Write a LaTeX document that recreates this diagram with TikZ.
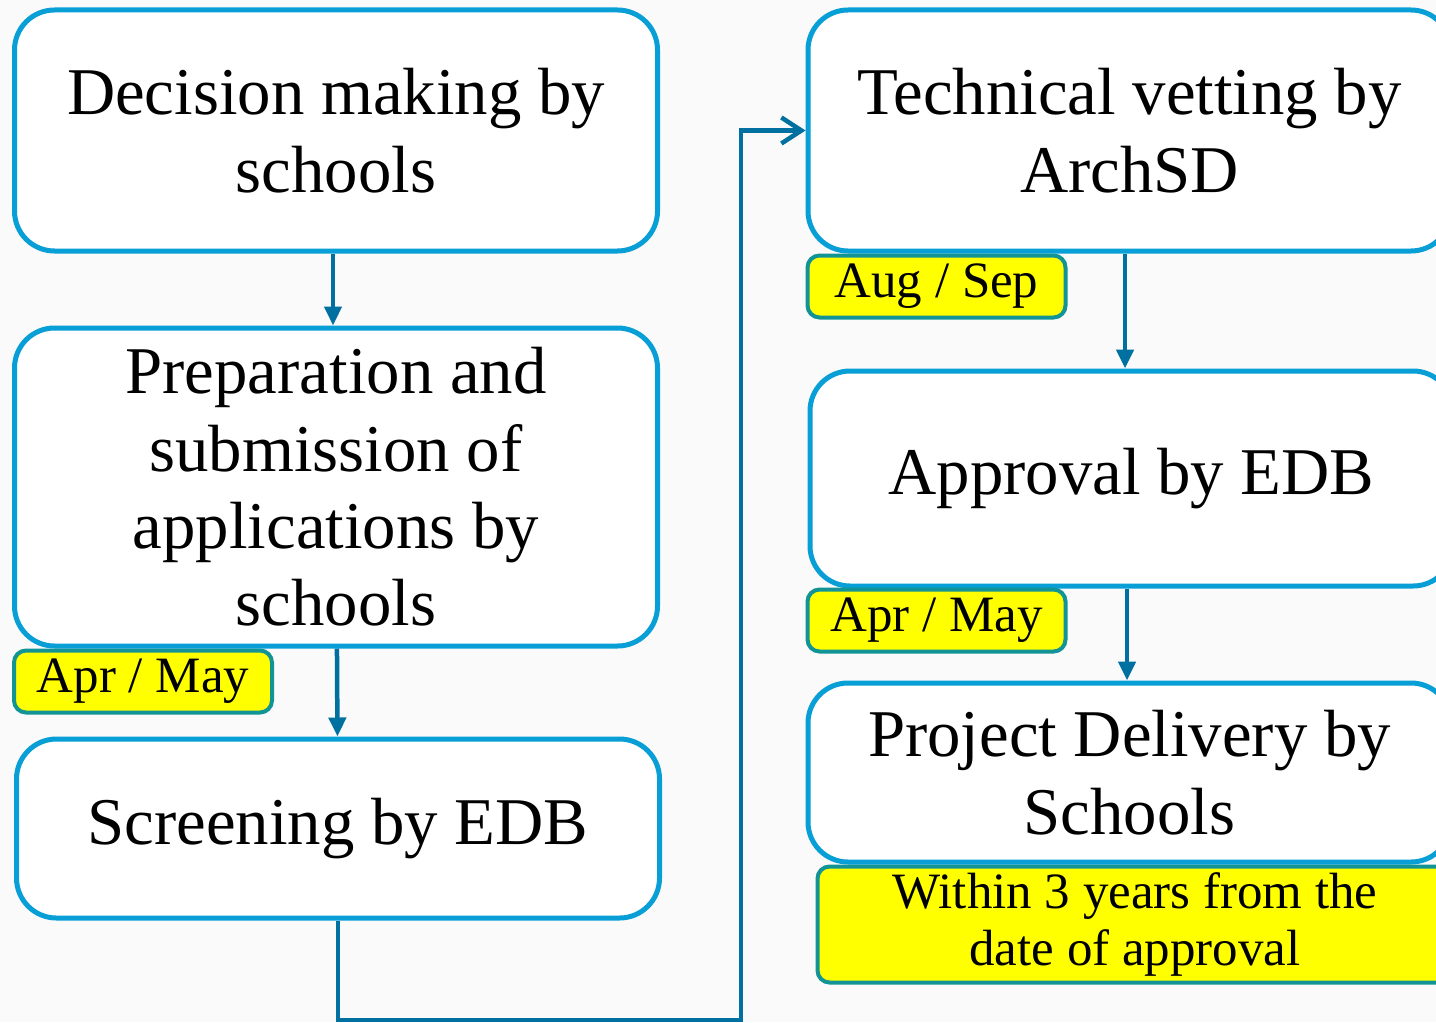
\documentclass[tikz,border=0pt]{standalone}
\usepackage{fontspec}
\setmainfont{Liberation Serif}
\usepackage{tikz}
\usetikzlibrary{arrows.meta,positioning}
\usepackage{xcolor}

\definecolor{boxblue}{RGB}{8,158,214}
\definecolor{flowblue}{RGB}{0,112,160}
\definecolor{tagteal}{RGB}{18,148,150}
\definecolor{tagyellow}{RGB}{255,255,0}
\definecolor{paper}{RGB}{250,250,250}

\begin{document}
\begin{tikzpicture}[
  stepbox/.style={rectangle, rounded corners=0.4cm, draw=boxblue, line width=0.5mm,
    fill=white, minimum width=6.43cm, align=center,
    font=\fontsize{19}{22}\selectfont},
  tagbox/.style={rectangle, rounded corners=0.12cm, draw=tagteal, line width=0.4mm,
    fill=tagyellow, minimum width=2.58cm, minimum height=0.62cm, inner sep=0pt,
    align=center, font=\fontsize{14.5}{16.2}\selectfont},
  arrow/.style={-{Triangle[length=1.9mm,width=1.7mm]}, draw=flowblue, line width=0.45mm},
  looparrow/.style={-{Straight Barb[length=2mm,width=2.6mm]}, draw=flowblue, line width=0.45mm}
]

% page
\clip (0,0) rectangle (14.36,-10.22);
\fill[paper] (0,0) rectangle (14.36,-10.22);

% left column
\node[stepbox, minimum height=2.41cm] (decide) at (3.36,-1.305) {Decision making by\\schools};
\node[stepbox, minimum height=3.18cm] (prepare) at (3.36,-4.87) {Preparation and\\submission of\\applications by\\schools};
\node[stepbox, minimum height=1.79cm] (screen) at (3.38,-8.285) {Screening by EDB};

% right column
\node[stepbox, minimum height=2.41cm] (vetting) at (11.295,-1.305) {Technical vetting by\\ArchSD};
\node[stepbox, minimum height=2.15cm] (approve) at (11.315,-4.785) {Approval by EDB};
\node[stepbox, minimum height=1.79cm] (deliver) at (11.295,-7.725) {Project Delivery by\\Schools};

% time tags
\node[tagbox, below right=0pt and 0pt of prepare.south west] (tprepare) {Apr / May};
\node[tagbox, below right=0pt and 0pt of vetting.south west] (tvetting) {Aug / Sep};
\node[tagbox, below right=-0.01cm and -0.02cm of approve.south west] (tapprove) {Apr / May};
\node[tagbox, minimum width=6.35cm, minimum height=1.16cm,
  below right=0pt and 0.1cm of deliver.south west] (tdeliver) {Within 3 years from the\\date of approval};

% arrows
\draw[arrow] (decide.south -| 3.33,0) -- (prepare.north -| 3.33,0);
\draw[arrow] (prepare) -- (screen);
\draw[arrow] (vetting.south -| 11.25,0) -- (approve.north -| 11.25,0);
\draw[arrow] (approve.south -| 11.27,0) -- (deliver.north -| 11.27,0);

\coordinate (bend) at (7.41,-10.20);
\draw[looparrow] (screen.south) |- (bend) |- (vetting.west);

\end{tikzpicture}
\end{document}
